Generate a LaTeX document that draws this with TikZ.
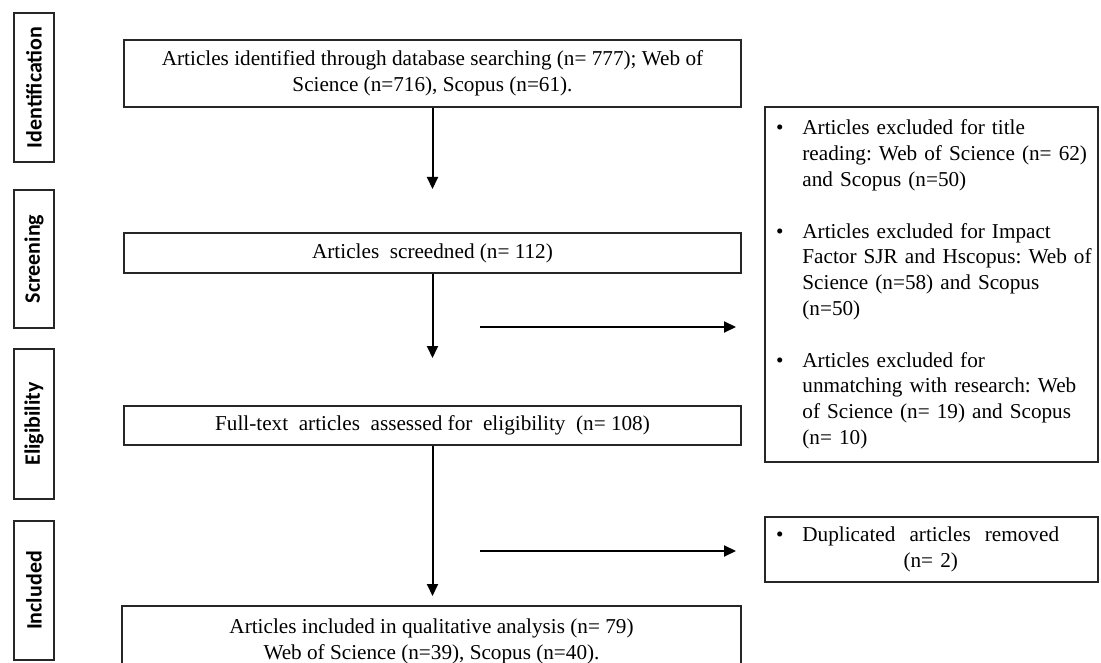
\documentclass[tikz,border=0pt]{standalone}
\usepackage{fontspec}
\setmainfont{Liberation Serif}
\newfontfamily\sidefont{Carlito}
\usepackage{tikz}
\usetikzlibrary{arrows.meta}
\frenchspacing

\begin{document}
\begin{tikzpicture}[x=1pt,y=-1pt,
	box/.style={draw=black!85,line width=1.3pt,inner sep=0pt,align=center,font=\fontsize{21.2}{25.8}\selectfont},
	stagebox/.style={draw=black!85,line width=1.3pt,inner sep=0pt,rotate=90,minimum height=40pt,font=\sidefont\bfseries\fontsize{22}{26}\selectfont},
	arr/.style={line width=2pt,-{Triangle[length=12pt,width=11pt]}}]
	\useasboundingbox (0,0) rectangle (1101,663);
	\clip (0,0) rectangle (1101,663);
	
	%STAGES
	\foreach \lbl/\y/\h in {Identification/87.5/149,Screening/259/138,Eligibility/424/150,Included/590.5/139}
		\node[stagebox,minimum width=\h pt] (\lbl) at (34,\y) {\lbl};
	
	%MAIN BOXES
	\node[box,minimum width=617pt,minimum height=67pt] (identified) at (432.5,73.5) {Articles\ identified\ through\ database\ searching\ (n= 777);\ Web of\\ Science (n=716), Scopus (n=61).};
	\node[box,minimum width=617pt,minimum height=40pt] (screened) at (432.5,253) {Articles\ \ screedned (n= 112)};
	\node[box,minimum width=617pt,minimum height=39pt] (eligible) at (432.5,425.5) {Full-text\ \ articles\ \ assessed for\ \ eligibility\ \ (n= 108)};
	\node[box,minimum width=619pt,minimum height=70pt] (included) at (431.5,641) {Articles\ included\ in\ qualitative\ analysis\ (n= 79)\\ Web of Science (n=39), Scopus (n=40).};
	
	%EXCLUSIONS
	\node[box,minimum width=333pt,minimum height=355pt,inner xsep=11pt,text width=311pt,align=left] (excluded) at (931.5,284.5) {%
		\begin{tabular}{@{}l@{\hspace{19pt}}l@{}}
		\textbullet & Articles excluded for title\\
		 & reading: Web of Science (n= 62)\\
		 & and Scopus (n=50)\\
		 & \\
		\textbullet & Articles excluded for Impact\\
		 & Factor SJR and Hscopus: Web of\\
		 & Science (n=58) and Scopus\\
		 & (n=50)\\
		 & \\
		\textbullet & Articles excluded for\\
		 & unmatching with research: Web\\
		 & of Science (n= 19) and Scopus\\
		 & (n= 10)
		\end{tabular}};
	\node[box,minimum width=333pt,minimum height=65pt,inner xsep=11pt,text width=311pt,align=left] (duplicated) at (931.5,549.5) {%
		\begin{tabular}{@{}l@{\hspace{19pt}}c@{}}
		\textbullet & Duplicated\ \ articles\ \ removed\\
		 & (n= 2)
		\end{tabular}};
	
	%ARROW ENDS
	\coordinate (screenTip) at (432.5,189);
	\coordinate (eligTip) at (432.5,358);
	\coordinate (inclTip) at (432.5,596);
	\coordinate (exclStart) at (480,327);
	\coordinate (exclEnd) at (736,327);
	\coordinate (dupStart) at (480,551);
	\coordinate (dupEnd) at (736,551);
	
	%ARROWS
	\foreach \a/\b in {identified/screenTip,screened/eligTip,eligible/inclTip,exclStart/exclEnd,dupStart/dupEnd}
		\draw[arr] (\a)--(\b);
\end{tikzpicture}
\end{document}
